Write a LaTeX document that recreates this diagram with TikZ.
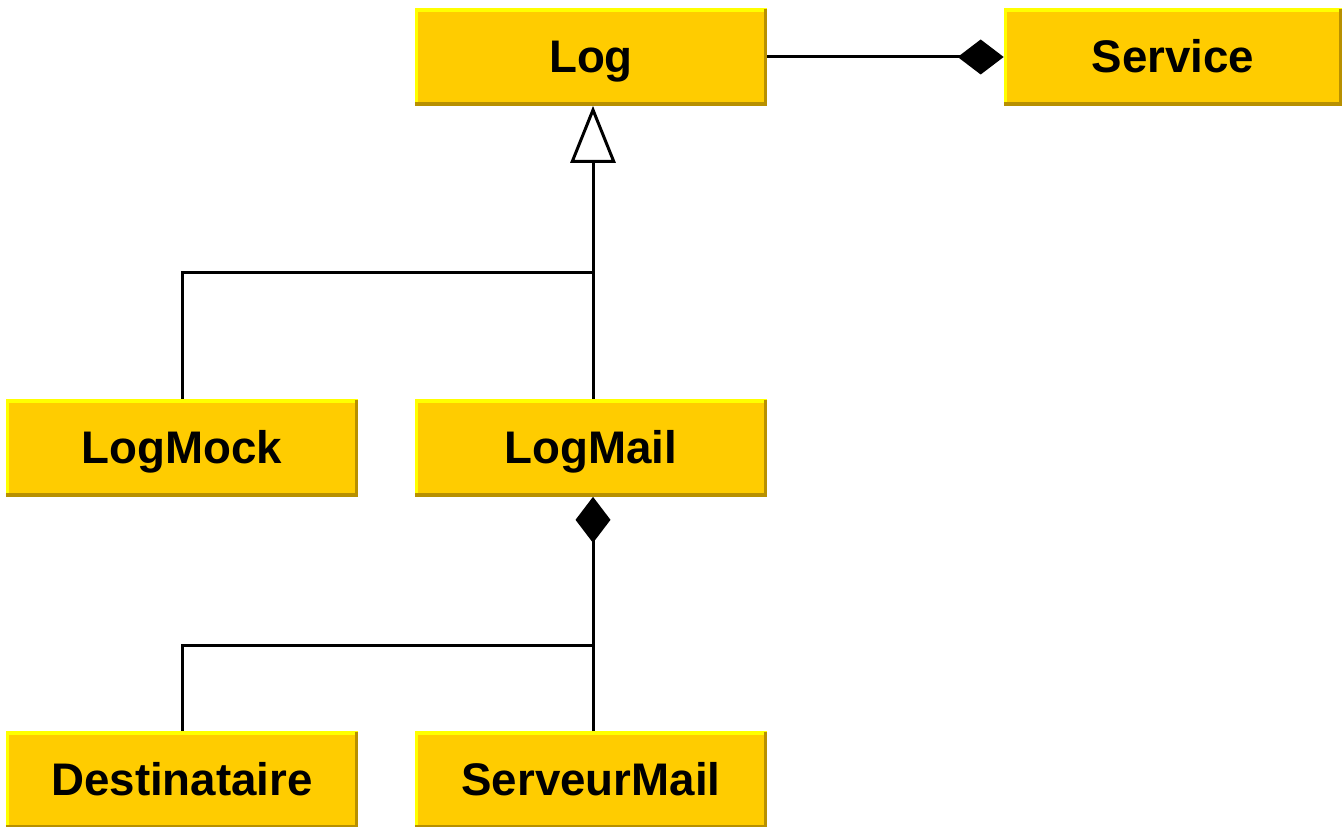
\documentclass[tikz,border=0pt]{standalone}
\usepackage{fontspec}
\setmainfont{Liberation Sans}
\usetikzlibrary{arrows.meta, positioning}
\definecolor{class_gold}{RGB}{255, 204, 0}
\definecolor{bevel_light}{RGB}{255, 255, 0}
\definecolor{bevel_dark}{RGB}{184, 144, 0}

\begin{document}
\begin{tikzpicture}[
    x=0.02cm, y=-0.02cm,
    % Node styles
    umlclass/.style={
        rectangle,
        fill=class_gold,
        text=black,
        inner sep=0pt,
        minimum width=7.04cm,
        minimum height=1.94cm,
        text height=0.68cm,
        text depth=0.06cm,
        align=center,
        font=\fontsize{26}{30}\selectfont\bfseries,
        path picture={
            \draw[bevel_light, line width=0.12cm]
                (path picture bounding box.south west) |- (path picture bounding box.north east);
            \draw[bevel_dark, line width=0.12cm]
                (path picture bounding box.south west) -| (path picture bounding box.north east);
        }
    },
    inherit/.style={
        -{Triangle[open, length=1.14cm, width=0.9cm]},
        line width=0.06cm
    },
    compose/.style={
        -{Diamond[length=0.92cm, width=0.7cm]},
        line width=0.06cm
    },
    link/.style={
        line width=0.06cm
    }
]

\useasboundingbox (0,0) rectangle (1342,827);

% Position nodes
\node[umlclass] (log) at (591,57) {Log};
\node[umlclass, minimum width=6.76cm] (service) at (1173,57) {Service};

\node[umlclass] (logmock) at (182,448) {LogMock};
\node[umlclass] (logmail) at (591,448) {LogMail};

\node[umlclass] (destinataire) at (182,780) {Destinataire};
\node[umlclass] (serveurmail) at (591,780) {ServeurMail};

\coordinate (inherit_join) at (593,273);
\coordinate (compose_join) at (593,645);

% draw arrows
\draw[compose] (log.east) -- (service.west);

\draw[inherit] (logmail.north -| inherit_join) -- (log.south -| inherit_join);
\draw[link] (logmock.north) |- (inherit_join);

\draw[compose] (serveurmail.north -| compose_join) -- (logmail.south -| compose_join);
\draw[link] (destinataire.north) |- (compose_join);

\end{tikzpicture}
\end{document}
